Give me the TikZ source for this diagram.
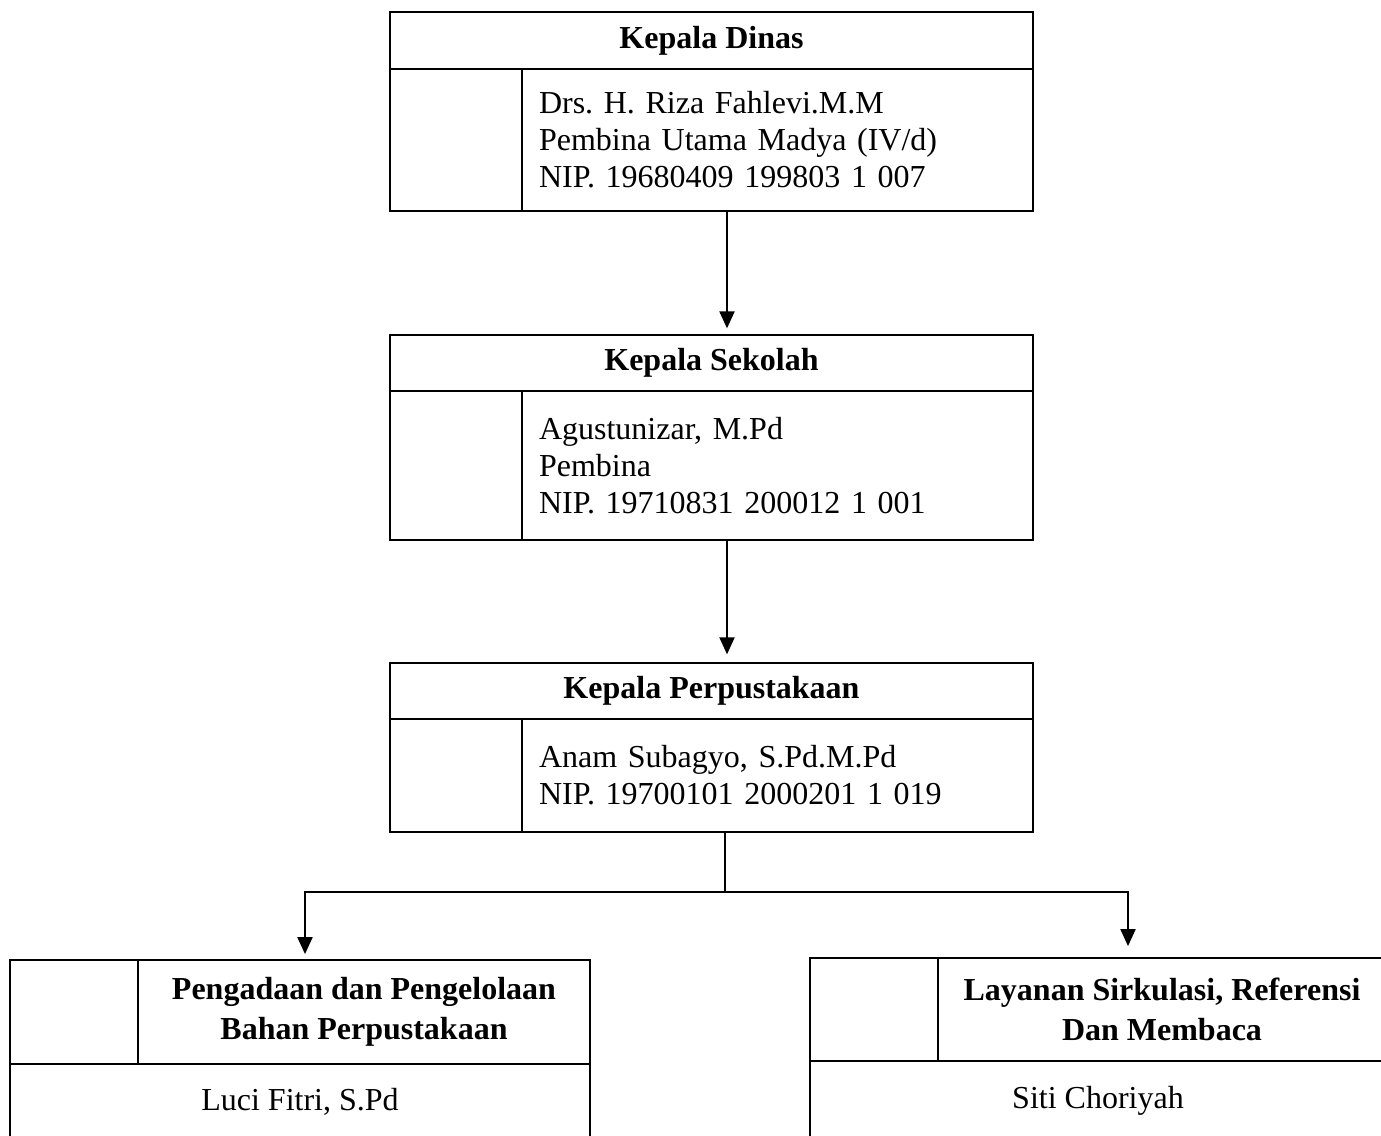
\documentclass[tikz,border=0pt]{standalone}
\usepackage{fontspec}
\setmainfont{Liberation Serif}
\usetikzlibrary{arrows.meta}
\frenchspacing
\tikzstyle{cell} = [
 rectangle,
 draw,
 line width=0.65pt,
 inner sep=0pt
]
\tikzstyle{title} = [
 cell,
 minimum width=321.5pt,
 font=\fontsize{16}{18.5}\selectfont\bfseries
]
\tikzstyle{blank} = [
 cell,
 minimum width=66pt
]
\tikzstyle{info} = [
 cell,
 text width=238.5pt,
 inner xsep=8.5pt,
 align=left,
 font=\fontsize{16}{18.5}\selectfont
]
\tikzstyle{unitBlank} = [
 cell,
 line width=0.9pt,
 minimum width=64pt
]
\tikzstyle{unitTitle} = [
 cell,
 line width=0.9pt,
 align=center,
 font=\fontsize{16}{20}\selectfont\bfseries
]
\tikzstyle{unitName} = [
 cell,
 line width=0.9pt,
 font=\fontsize{16}{18.5}\selectfont
]
\tikzstyle{line} = [line width=1pt]
\tikzstyle{arrow} = [
 line,
 -{Triangle[length=8.5pt,width=7.5pt]}
]
\begin{document}
\begin{tikzpicture}[x=0.5pt,y=-0.5pt]
  \clip (0,0) rectangle (1381,1135);
  \node [title, minimum height=28.5pt] (dinas) at (711.5,40.5) {Kepala Dinas};
  \node [blank, minimum height=71pt] (dinasKosong) at (456,140) {};
  \node [info, minimum height=71pt] (dinasIsi) at (777.5,140)
    {Drs. H. Riza Fahlevi.M.M\\Pembina Utama Madya (IV/d)\\NIP. 19680409 199803 1 007};

  \node [title, minimum height=28pt] (sekolah) at (711.5,363) {Kepala Sekolah};
  \node [blank, minimum height=74.5pt] (sekolahKosong) at (456,465.5) {};
  \node [info, minimum height=74.5pt] (sekolahIsi) at (777.5,465.5)
    {Agustunizar, M.Pd\\Pembina\\NIP. 19710831 200012 1 001};

  \node [title, minimum height=28pt] (pustaka) at (711.5,691) {Kepala Perpustakaan};
  \node [blank, minimum height=56.5pt] (pustakaKosong) at (456,775.5) {};
  \node [info, minimum height=56.5pt] (pustakaIsi) at (777.5,775.5)
    {Anam Subagyo, S.Pd.M.Pd\\NIP. 19700101 2000201 1 019};

  \node [unitBlank, minimum height=52pt] (pengadaanKosong) at (74,1012) {};
  \node [unitTitle, minimum width=226pt, minimum height=52pt] (pengadaan) at (364,1012)
    {Pengadaan dan Pengelolaan\\Bahan Perpustakaan};
  \node [unitName, minimum width=290pt, minimum height=38pt] (pengadaanIsi) at (300,1102)
    {Luci Fitri, S.Pd};

  \node [unitBlank, minimum height=51.5pt] (layananKosong) at (874,1009.5) {};
  \node [unitTitle, minimum width=224pt, minimum height=51.5pt] (layanan) at (1162,1009.5)
    {Layanan Sirkulasi, Referensi\\Dan Membaca};
  \node [unitName, minimum width=288pt, minimum height=39.5pt] (layananIsi) at (1098,1100.5)
    {Siti Choriyah};

  \draw [arrow, shorten >=3pt] ([xshift=7.75pt]dinas.south |- dinasIsi.south)
    -- ([xshift=7.75pt]sekolah.north);
  \draw [arrow, shorten >=4pt] ([xshift=7.75pt]sekolah.south |- sekolahIsi.south)
    -- ([xshift=7.75pt]pustaka.north);
  \coordinate (split) at (725,892);
  \draw [line] (split |- pustakaIsi.south) -- (split);
  \draw [arrow, shorten >=2.5pt] (split) -| ([xshift=-29.5pt]pengadaan.north);
  \draw [arrow, shorten >=5.5pt] (split) -| ([xshift=-17pt]layanan.north);
\end{tikzpicture}
\end{document}
